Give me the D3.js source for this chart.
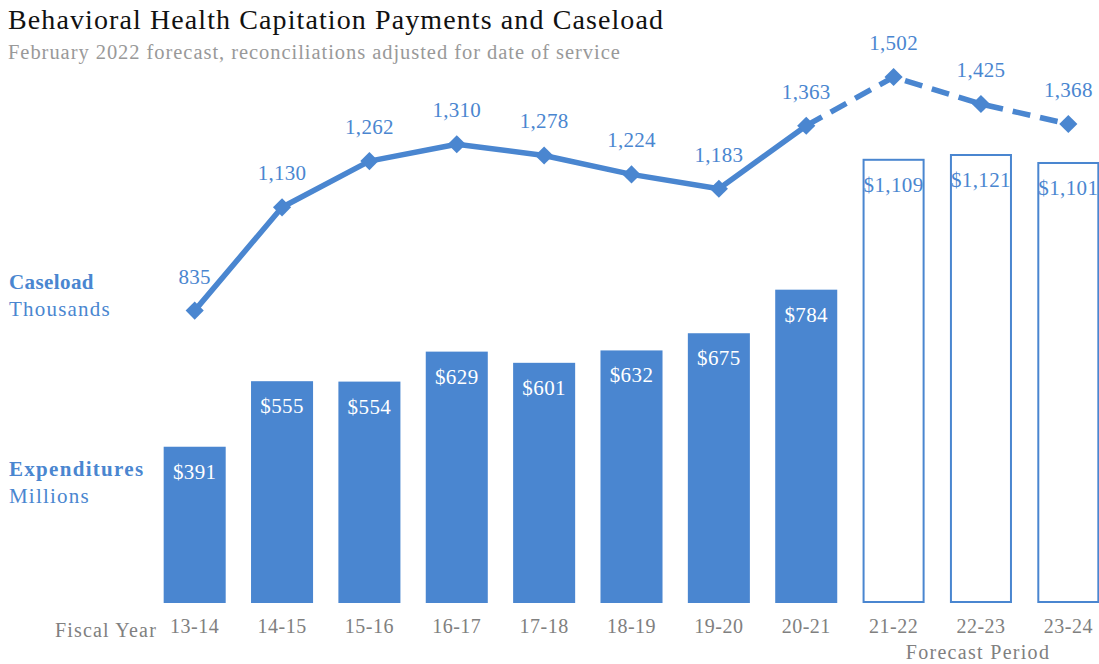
<!DOCTYPE html>
<html lang="en">
<head>
	<meta charset="UTF-8">
	<title>Behavioral Health Capitation Payments and Caseload</title>
	<script type="text/javascript" src="https://cdn.jsdelivr.net/npm/d3@7"></script>
	<style>
		body { margin: 0; background: #fff; }
		text { font-family: "Liberation Serif", "DejaVu Serif", serif; }
	</style>
</head>
<body>
<script type="text/javascript">
	var years = ['13-14', '14-15', '15-16', '16-17', '17-18', '18-19', '19-20', '20-21', '21-22', '22-23', '23-24'];
	var expenditures = [391, 555, 554, 629, 601, 632, 675, 784, 1109, 1121, 1101];
	var caseload = [835, 1130, 1262, 1310, 1278, 1224, 1183, 1363, 1502, 1425, 1368];
	var forecastStart = 8; // index of first forecast year

	var blue = '#4a86d0';
	var width = 1099, height = 664;
	var baseline = 603;

	var svg = d3.select('body').append('svg')
		.attr('width', width)
		.attr('height', height);

	var x = d3.scaleBand()
		.domain(years)
		.range([151, 1112])
		.paddingInner(0.29)
		.paddingOuter(0.145);

	var y = d3.scaleLinear().domain([0, 1121]).range([baseline, 155]);
	var y2 = d3.scaleLinear().domain([0, 1722]).range([baseline, 0]);

	var data = years.map(function (d, i) {
		return {year: d, exp: expenditures[i], cases: caseload[i], forecast: i >= forecastStart};
	});

	// title
	svg.append('text').attr('x', 8).attr('y', 29)
		.style('font-size', '28px').style('fill', '#111')
		.style('letter-spacing', '1.1px')
		.text('Behavioral Health Capitation Payments and Caseload');
	svg.append('text').attr('x', 8).attr('y', 59)
		.style('font-size', '20.5px').style('fill', '#999')
		.style('letter-spacing', '0.95px')
		.text('February 2022 forecast, reconciliations adjusted for date of service');

	// bars
	svg.selectAll('.bar')
		.data(data)
		.enter().append('rect')
		.attr('class', 'bar')
		.attr('x', function (d) { return x(d.year) + (d.forecast ? 1 : 0); })
		.attr('width', function (d) { return x.bandwidth() - (d.forecast ? 2 : 0); })
		.attr('y', function (d) { return y(d.exp); })
		.attr('height', function (d) { return baseline - y(d.exp) - (d.forecast ? 1 : 0); })
		.style('fill', function (d) { return d.forecast ? '#fff' : blue; })
		.style('stroke', function (d) { return d.forecast ? blue : 'none'; })
		.style('stroke-width', 2);

	svg.selectAll('.bar-label')
		.data(data)
		.enter().append('text')
		.attr('class', 'bar-label')
		.attr('x', function (d) { return x(d.year) + x.bandwidth() / 2; })
		.attr('y', function (d) { return y(d.exp) + 32; })
		.attr('text-anchor', 'middle')
		.style('font-size', '21px')
		.style('letter-spacing', '0.4px')
		.style('fill', function (d) { return d.forecast ? blue : '#fff'; })
		.text(function (d) { return '$' + d3.format(',')(d.exp); });

	// caseload line
	var line = d3.line()
		.x(function (d) { return x(d.year) + x.bandwidth() / 2; })
		.y(function (d) { return y2(d.cases); });

	svg.append('path')
		.datum(data.slice(0, forecastStart))
		.attr('d', line)
		.style('fill', 'none')
		.style('stroke', blue)
		.style('stroke-width', 5.5)
		.style('stroke-linejoin', 'round');

	svg.append('path')
		.datum(data.slice(forecastStart - 1))
		.attr('d', line)
		.style('fill', 'none')
		.style('stroke', blue)
		.style('stroke-width', 5.5)
		.style('stroke-dasharray', '18,10');

	svg.selectAll('.marker')
		.data(data)
		.enter().append('path')
		.attr('class', 'marker')
		.attr('d', d3.symbol().type(d3.symbolDiamond2).size(210))
		.attr('transform', function (d) {
			return 'translate(' + (x(d.year) + x.bandwidth() / 2) + ',' + y2(d.cases) + ')';
		})
		.style('fill', blue);

	svg.selectAll('.line-label')
		.data(data)
		.enter().append('text')
		.attr('class', 'line-label')
		.attr('x', function (d) { return x(d.year) + x.bandwidth() / 2; })
		.attr('y', function (d) { return y2(d.cases) - 27; })
		.attr('text-anchor', 'middle')
		.style('font-size', '21px')
		.style('letter-spacing', '0.3px')
		.style('fill', blue)
		.text(function (d) { return d3.format(',')(d.cases); });

	// x axis labels
	var xAxis = svg.append('g')
		.attr('transform', 'translate(0,' + baseline + ')')
		.call(d3.axisBottom(x).tickSize(0).tickPadding(16));
	xAxis.select('.domain').remove();
	xAxis.selectAll('text')
		.style('font-family', '"Liberation Serif", serif')
		.style('font-size', '20px')
		.style('letter-spacing', '0.5px')
		.style('fill', '#808080');

	svg.append('text').attr('x', 157).attr('y', 637)
		.attr('text-anchor', 'end')
		.style('font-size', '20px').style('fill', '#808080')
		.style('letter-spacing', '1.2px')
		.text('Fiscal Year');
	svg.append('text').attr('x', 978).attr('y', 659)
		.attr('text-anchor', 'middle')
		.style('font-size', '20px').style('fill', '#808080')
		.style('letter-spacing', '1.3px')
		.text('Forecast Period');

	// side labels
	var side = [
		{t: 'Caseload', y: 289, bold: true, ls: 0.4},
		{t: 'Thousands', y: 316, bold: false, ls: 1.2},
		{t: 'Expenditures', y: 476, bold: true, ls: 1.3},
		{t: 'Millions', y: 503, bold: false, ls: 1.2}
	];
	svg.selectAll('.side')
		.data(side)
		.enter().append('text')
		.attr('class', 'side')
		.attr('x', 9)
		.attr('y', function (d) { return d.y; })
		.style('font-size', '21px')
		.style('letter-spacing', function (d) { return d.ls + 'px'; })
		.style('font-weight', function (d) { return d.bold ? 'bold' : 'normal'; })
		.style('fill', blue)
		.text(function (d) { return d.t; });
</script>
</body>
</html>
